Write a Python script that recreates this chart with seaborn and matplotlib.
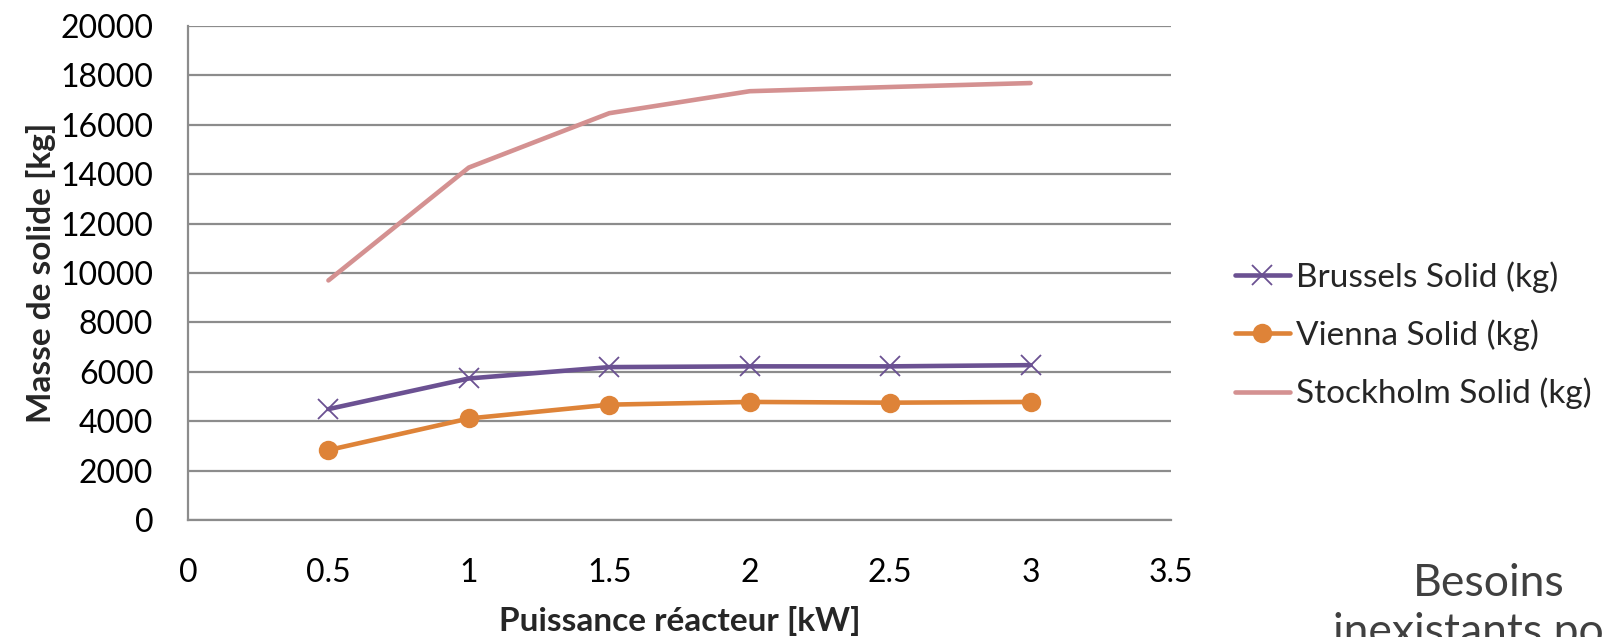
import numpy as np
import pandas as pd
import matplotlib
matplotlib.use("Agg")
import matplotlib.pyplot as plt
import seaborn as sns

# =============================
# DATA
# =============================
power_kw = [0.5, 1.0, 1.5, 2.0, 2.5, 3.0]
brussels = [4490, 5730, 6190, 6220, 6220, 6270]
vienna = [2830, 4110, 4670, 4780, 4750, 4780]
stockholm = [9700, 14270, 16470, 17360, 17530, 17690]

series_names = ["Brussels Solid (kg)", "Vienna Solid (kg)", "Stockholm Solid (kg)"]
x_ticks = [0, 0.5, 1, 1.5, 2, 2.5, 3, 3.5]
x_tick_labels = ["0", "0.5", "1", "1.5", "2", "2.5", "3", "3.5"]
y_ticks = list(range(0, 20001, 2000))

df = pd.DataFrame({
    "power": power_kw * 3,
    "mass": brussels + vienna + stockholm,
    "series": np.repeat(series_names, len(power_kw)),
})

# =============================
# STYLE
# =============================
sns.set_style("white")
plt.rcParams["font.family"] = ["Lato", "DejaVu Sans"]

colors = {
    "Brussels Solid (kg)": "#6b5192",
    "Vienna Solid (kg)": "#de8338",
    "Stockholm Solid (kg)": "#d49191",
}
markers = {
    "Brussels Solid (kg)": "x",
    "Vienna Solid (kg)": "o",
    "Stockholm Solid (kg)": "",
}

fig = plt.figure(figsize=(16.04, 6.37), dpi=100)
ax = fig.add_axes([188 / 1604, 1 - 520 / 637, (1171 - 188) / 1604, (520 - 26) / 637])

for name in series_names:
    sub = df[df["series"] == name]
    sns.lineplot(
        data=sub, x="power", y="mass", ax=ax,
        color=colors[name], linewidth=3.3,
        marker=markers[name] if markers[name] else None,
        markersize=14 if markers[name] == "o" else 15,
        markeredgewidth=1.3 if markers[name] == "x" else 0,
        markeredgecolor=colors[name],
        label=name,
    )

# =============================
# AXES
# =============================
ax.set_xlim(0, 3.5)
ax.set_ylim(0, 20000)
ax.set_xticks(x_ticks)
ax.set_xticklabels(x_tick_labels)
ax.set_yticks(y_ticks)
ax.yaxis.grid(True, color="#8c8c8c", linewidth=1.6)
ax.xaxis.grid(False)
ax.set_axisbelow(True)

for side in ["top", "right"]:
    ax.spines[side].set_visible(False)
for side in ["left", "bottom"]:
    ax.spines[side].set_color("#8c8c8c")
    ax.spines[side].set_linewidth(1.6)

ax.tick_params(axis="both", which="major", direction="out", length=8,
               width=1.6, color="#8c8c8c", labelsize=23, labelcolor="black")
ax.tick_params(axis="x", pad=19)
ax.tick_params(axis="y", pad=17)

ax.set_xlabel("Puissance réacteur [kW]", fontsize=24, fontweight="bold", labelpad=13)
ax.set_ylabel("Masse de solide [kg]", fontsize=24, fontweight="bold", labelpad=3)

# =============================
# LEGEND
# =============================
leg = ax.legend(
    loc="center left", bbox_to_anchor=(1.065, 0.374), frameon=False,
    fontsize=24, handlelength=1.65, handletextpad=0.18, labelspacing=0.8,
    numpoints=1, borderaxespad=0, borderpad=0,
)

# side note, cut by the figure edge as in the original slide
fig.text(1489 / 1604, 1 - 596 / 637, "Besoins",
         ha="center", va="baseline", fontsize=32, color="#404040")
fig.text(1489 / 1604, 1 - 645 / 637, "inexistants pour",
         ha="center", va="baseline", fontsize=32, color="#404040")

fig.savefig("out.png", dpi=100)
plt.close(fig)
